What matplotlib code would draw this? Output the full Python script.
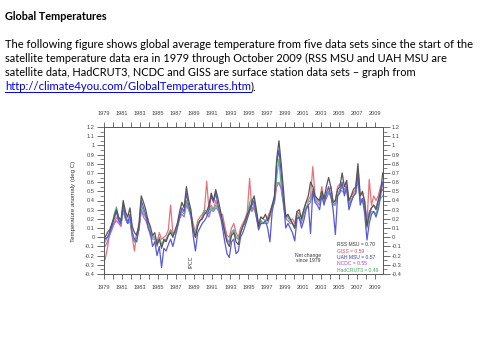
import matplotlib
matplotlib.use("Agg")
import matplotlib.pyplot as plt
import numpy as np
from matplotlib.lines import Line2D
from matplotlib.ticker import MultipleLocator, FuncFormatter

# ---------------- data (quarterly estimates) ----------------
years = list(range(1979, 2010))

rss = [0.00, 0.05, 0.08, 0.15, 0.22, 0.30, 0.22, 0.18, 0.40, 0.28, 0.22, 0.32,
       0.12, 0.05, 0.02, 0.15, 0.45, 0.38, 0.30, 0.18, 0.12, 0.02, 0.05, -0.08,
       -0.02, -0.12, -0.02, -0.05, 0.02, 0.05, 0.00, 0.08, 0.15, 0.28, 0.38, 0.32,
       0.55, 0.40, 0.30, 0.08, 0.00, 0.12, 0.18, 0.20, 0.25, 0.28, 0.35, 0.48,
       0.40, 0.52, 0.42, 0.30, 0.18, 0.05, -0.05, -0.10, 0.02, 0.05, -0.05, -0.08,
       0.05, 0.12, 0.18, 0.25, 0.30, 0.38, 0.45, 0.30, 0.12, 0.22, 0.20, 0.25,
       0.18, 0.25, 0.35, 0.45, 0.85, 1.05, 0.80, 0.52, 0.22, 0.25, 0.20, 0.15,
       0.10, 0.28, 0.30, 0.20, 0.30, 0.38, 0.45, 0.60, 0.55, 0.45, 0.42, 0.40,
       0.50, 0.42, 0.55, 0.65, 0.55, 0.38, 0.40, 0.52, 0.55, 0.70, 0.55, 0.62,
       0.40, 0.45, 0.52, 0.55, 0.80, 0.45, 0.50, 0.38, 0.12, 0.25, 0.32, 0.35,
       0.30, 0.40, 0.50, 0.70]

uah = [-0.02, 0.00, 0.05, 0.12, 0.20, 0.28, 0.18, 0.15, 0.35, 0.22, 0.15, 0.25,
       0.05, -0.02, -0.05, 0.10, 0.40, 0.32, 0.25, 0.10, 0.05, -0.10, -0.05, -0.20,
       -0.10, -0.33, -0.12, -0.15, -0.08, -0.02, -0.10, 0.00, 0.10, 0.22, 0.32, 0.28,
       0.48, 0.35, 0.25, 0.02, -0.15, 0.05, 0.10, 0.15, 0.18, 0.22, 0.30, 0.45,
       0.38, 0.48, 0.35, 0.25, 0.10, -0.05, -0.18, -0.22, -0.05, -0.02, -0.18, -0.15,
       0.00, 0.05, 0.12, 0.20, 0.28, 0.35, 0.40, 0.22, 0.08, 0.15, 0.15, 0.18,
       0.10, -0.05, 0.28, 0.40, 0.80, 0.95, 0.70, 0.40, 0.10, 0.15, 0.10, 0.05,
       -0.04, 0.20, 0.22, 0.10, 0.18, 0.30, 0.35, 0.04, 0.50, 0.38, 0.35, 0.30,
       0.45, 0.35, 0.48, 0.55, 0.45, 0.30, 0.03, 0.45, 0.48, 0.60, 0.45, 0.55,
       0.30, 0.38, 0.45, 0.48, 0.70, 0.35, 0.42, 0.25, -0.03, 0.15, 0.25, 0.28,
       0.22, 0.30, 0.45, 0.60]

giss = [-0.24, -0.12, 0.05, 0.10, 0.15, 0.22, 0.18, 0.12, 0.35, 0.25, 0.18, 0.20,
        0.00, -0.15, 0.05, 0.10, 0.30, 0.25, 0.22, 0.20, 0.05, 0.02, 0.00, -0.05,
        0.05, -0.02, 0.00, 0.02, 0.08, 0.35, 0.05, 0.05, 0.12, 0.25, 0.30, 0.28,
        0.40, 0.32, 0.25, 0.15, 0.05, 0.18, 0.22, 0.25, 0.30, 0.61, 0.30, 0.35,
        0.30, 0.40, 0.32, 0.25, 0.25, 0.12, 0.02, 0.00, 0.10, 0.15, 0.05, 0.00,
        0.10, 0.15, 0.20, 0.28, 0.64, 0.30, 0.35, 0.28, 0.15, 0.22, 0.20, 0.18,
        0.22, 0.28, 0.35, 0.40, 0.60, 0.58, 0.55, 0.40, 0.25, 0.22, 0.18, 0.20,
        0.15, 0.28, 0.25, 0.22, 0.30, 0.38, 0.40, 0.45, 0.77, 0.45, 0.42, 0.40,
        0.55, 0.40, 0.45, 0.50, 0.55, 0.38, 0.40, 0.55, 0.58, 0.55, 0.52, 0.58,
        0.38, 0.45, 0.48, 0.52, 0.75, 0.45, 0.48, 0.40, 0.15, 0.63, 0.35, 0.45,
        0.40, 0.45, 0.55, 0.58]

ncdc = [-0.10, -0.05, 0.02, 0.08, 0.15, 0.18, 0.15, 0.12, 0.30, 0.20, 0.15, 0.18,
        0.02, -0.05, 0.00, 0.08, 0.30, 0.22, 0.18, 0.12, 0.02, -0.02, -0.02, -0.10,
        0.00, -0.08, -0.05, -0.02, 0.02, 0.08, 0.02, 0.05, 0.12, 0.20, 0.25, 0.22,
        0.35, 0.30, 0.22, 0.08, 0.00, 0.15, 0.18, 0.20, 0.28, 0.25, 0.22, 0.30,
        0.28, 0.32, 0.30, 0.22, 0.18, 0.08, -0.02, -0.05, 0.05, 0.08, 0.00, -0.02,
        0.05, 0.12, 0.15, 0.22, 0.35, 0.28, 0.32, 0.22, 0.10, 0.18, 0.15, 0.15,
        0.15, 0.22, 0.32, 0.38, 0.55, 0.60, 0.52, 0.35, 0.20, 0.18, 0.15, 0.15,
        0.10, 0.22, 0.20, 0.15, 0.25, 0.32, 0.35, 0.38, 0.50, 0.40, 0.38, 0.35,
        0.50, 0.38, 0.42, 0.48, 0.45, 0.35, 0.35, 0.45, 0.52, 0.50, 0.48, 0.52,
        0.35, 0.40, 0.45, 0.48, 0.65, 0.40, 0.42, 0.35, 0.15, 0.28, 0.32, 0.35,
        0.32, 0.40, 0.48, 0.52]

hadcrut3 = [-0.05, 0.00, 0.05, 0.12, 0.25, 0.33, 0.20, 0.15, 0.28, 0.20, 0.15, 0.18,
            0.05, -0.05, 0.02, 0.10, 0.35, 0.28, 0.22, 0.15, 0.05, 0.00, 0.00, -0.08,
            0.00, -0.10, -0.05, -0.03, 0.03, 0.08, 0.02, 0.05, 0.15, 0.22, 0.28, 0.25,
            0.38, 0.30, 0.25, 0.10, 0.02, 0.15, 0.18, 0.22, 0.30, 0.28, 0.25, 0.32,
            0.30, 0.35, 0.30, 0.25, 0.15, 0.05, -0.05, -0.05, 0.05, 0.08, 0.00, -0.02,
            0.05, 0.12, 0.15, 0.22, 0.38, 0.42, 0.32, 0.25, 0.10, 0.18, 0.15, 0.18,
            0.18, 0.25, 0.32, 0.40, 0.65, 0.85, 0.55, 0.38, 0.20, 0.22, 0.18, 0.15,
            0.10, 0.25, 0.22, 0.18, 0.28, 0.32, 0.38, 0.40, 0.52, 0.42, 0.40, 0.38,
            0.50, 0.38, 0.45, 0.50, 0.45, 0.35, 0.38, 0.45, 0.52, 0.55, 0.50, 0.52,
            0.35, 0.40, 0.45, 0.48, 0.62, 0.40, 0.40, 0.32, 0.10, 0.22, 0.28, 0.28,
            0.25, 0.35, 0.42, 0.45]

series_names = ["GISS", "NCDC", "HadCRUT3", "UAH MSU", "RSS MSU"]
net_change = {"RSS MSU": 0.70, "GISS": 0.59, "UAH MSU": 0.57, "NCDC": 0.55, "HadCRUT3": 0.49}
legend_order = ["RSS MSU", "GISS", "UAH MSU", "NCDC", "HadCRUT3"]

title = "Global Temperatures"
para_lines = [
    "The following figure shows global average temperature from five data sets since the start of the",
    "satellite temperature data era in 1979 through October 2009 (RSS MSU and UAH MSU are",
    "satellite data, HadCRUT3, NCDC and GISS are surface station data sets \u2013 graph from",
]
link_text = "http://climate4you.com/GlobalTemperatures.htm"
link_tail = ")."

# ---------------- styling ----------------
colors = {"RSS MSU": "#555555", "GISS": "#e8707a", "UAH MSU": "#5858dd",
          "NCDC": "#b868d0", "HadCRUT3": "#58b888"}
text_colors = {"RSS MSU": "#333333", "GISS": "#d84858", "UAH MSU": "#3a3aa8",
               "NCDC": "#b048d0", "HadCRUT3": "#40a860"}
data = {"RSS MSU": rss, "UAH MSU": uah, "GISS": giss, "NCDC": ncdc, "HadCRUT3": hadcrut3}

W, H = 480, 360
fig = plt.figure(figsize=(4.8, 3.6), dpi=100)
fig.patch.set_facecolor("white")
renderer = fig.canvas.get_renderer()

def fx(px):
    return px / W

def fy(py):
    return 1 - py / H

def fit_size(s, target_px, weight="normal", family="Lato"):
    t = fig.text(0, 0, s, fontsize=10, family=family, weight=weight)
    w = t.get_window_extent(renderer).width
    t.remove()
    return 10 * target_px / w

body_family = "Lato"
tsize = fit_size(title, 102, weight="bold", family=body_family)
fig.text(fx(5), fy(19.5), title, fontsize=tsize, weight="bold", family=body_family,
         va="baseline", ha="left", color="black")

targets = [467, 439, 408]
baselines = [48, 62.5, 76.5]
sizes = [fit_size(s, w, family=body_family) for s, w in zip(para_lines, targets)]
for s, b, fs in zip(para_lines, baselines, sizes):
    fig.text(fx(5), fy(b), s, fontsize=fs, family=body_family, va="baseline",
             ha="left", color="black")

lsize = fit_size(link_text, 246, family=body_family)
lt = fig.text(fx(5), fy(90.5), link_text, fontsize=lsize, family=body_family,
              va="baseline", ha="left", color="#0000ee")
ext = lt.get_window_extent(renderer)
x0, x1 = ext.x0 / W, ext.x1 / W
fig.add_artist(Line2D([x0, x1], [fy(92.2), fy(92.2)], color="#0000ee", lw=0.7,
                      transform=fig.transFigure))
fig.text(x1, fy(90.5), link_tail, fontsize=lsize, family=body_family, va="baseline",
         ha="left", color="black")

# ---------------- chart ----------------
ax = fig.add_axes([fx(104), fy(274), fx(383) - fx(104), (274 - 127) / H])
t = np.array([y + 0.125 + 0.25 * q for y in years for q in range(4)])
for name in series_names:
    vals = np.array(data[name])
    ax.plot(t[:len(vals)], vals, color=colors[name], lw=0.9)

ax.set_xlim(1979, 2009.9)
ax.set_ylim(-0.4, 1.2)
spine_c = "#555555"
for s in ax.spines.values():
    s.set_color(spine_c)
    s.set_linewidth(0.7)

ax.set_xticks(list(range(1979, 2010, 2)))
ax.set_xticks(list(range(1980, 2010, 2)), minor=True)
ax.yaxis.set_major_locator(MultipleLocator(0.1))
ax.yaxis.set_minor_locator(MultipleLocator(0.05))
ax.yaxis.set_major_formatter(FuncFormatter(lambda v, p: ("%g" % round(v, 2)) if abs(v) > 1e-9 else "0"))

xlab_size = 4.1
ylab_size = 4.1
ax.tick_params(axis="x", which="both", direction="out", length=3.6, width=0.6,
               color=spine_c, labelcolor="#444444", labelsize=xlab_size, pad=4,
               top=True, labeltop=True, bottom=True, labelbottom=True)
ax.tick_params(axis="y", which="major", direction="out", length=5.0, width=0.6,
               color=spine_c, labelcolor="#444444", labelsize=ylab_size, pad=1.5,
               left=True, right=True, labelleft=True, labelright=True)
ax.tick_params(axis="y", which="minor", direction="out", length=3.0, width=0.5,
               color=spine_c, left=True, right=True)
for lab in ax.get_xticklabels() + ax.get_yticklabels():
    lab.set_family("Liberation Sans")

ylabel = "Temperature anomaly (deg C)"
ysz = fit_size(ylabel, 82, family="Liberation Sans")
fig.text(fx(74), fy(201), ylabel, rotation=90, fontsize=ysz,
         family="Liberation Sans", color="#333333", ha="center", va="center")

ax.text(1988.6, -0.27, "IPCC", rotation=90, fontsize=3.8, family="Liberation Sans",
        color="#333333", ha="center", va="center")

ax.text(2001.6, -0.225, "Net change\nsince 1979", fontsize=3.6, family="Liberation Sans",
        color="#333333", ha="center", va="center", linespacing=1.1)

ly = -0.08
for name in legend_order:
    ax.text(2004.8, ly, "%s = %.2f" % (name, net_change[name]), fontsize=3.6,
            family="Liberation Sans", color=text_colors[name], ha="left", va="center")
    ly -= 0.07

fig.savefig("out.png", dpi=100, facecolor="white")
